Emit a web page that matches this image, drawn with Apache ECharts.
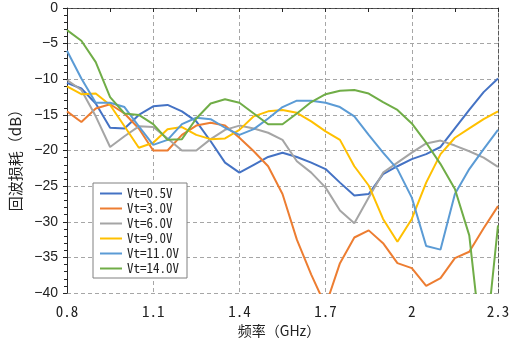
<!DOCTYPE html>
<html>
<head>
<meta charset="utf-8">
<script src="https://cdn.jsdelivr.net/npm/echarts@6/dist/echarts.min.js"></script>
<style>html,body{margin:0;padding:0;background:#fff}#c{width:519px;height:343px}</style>
</head>
<body>
<div id="c"></div>
<script>
const categories = ['0.8','0.85','0.9','0.95','1','1.05','1.1','1.15','1.2','1.25','1.3','1.35','1.4','1.45','1.5','1.55','1.6','1.65','1.7','1.75','1.8','1.85','1.9','1.95','2','2.05','2.1','2.15','2.2','2.25','2.3'];
const seriesNames = ['Vt=0.5V','Vt=3.0V','Vt=6.0V','Vt=9.0V','Vt=11.0V','Vt=14.0V'];
const vt05 = [-10.5,-11.3,-13.4,-16.8,-16.9,-15.0,-13.8,-13.6,-14.5,-15.9,-18.7,-21.7,-23.1,-22.0,-20.9,-20.3,-20.9,-21.7,-22.6,-24.5,-26.3,-26.1,-23.3,-22.2,-21.2,-20.5,-19.5,-16.9,-14.3,-11.8,-9.9];
const vt30 = [-14.5,-16.0,-14.1,-13.5,-14.8,-16.9,-20.0,-20.0,-17.8,-16.5,-16.1,-16.5,-18.2,-20.1,-22.2,-26.1,-32.5,-37.4,-41.8,-35.8,-32.2,-31.2,-33.0,-35.8,-36.5,-39.0,-37.9,-35.1,-34.2,-30.9,-27.8];
const vt60 = [-10.1,-11.5,-15.2,-19.5,-18.0,-16.6,-16.7,-18.3,-20.0,-20.0,-18.4,-17.1,-16.5,-16.9,-17.5,-18.5,-21.5,-23.1,-25.2,-28.4,-30.2,-26.6,-23.1,-21.7,-20.3,-19.0,-18.6,-19.3,-20.1,-21.0,-22.3];
const vt90 = [-11.0,-12.1,-12.0,-13.6,-16.6,-19.6,-18.9,-17.0,-16.7,-17.8,-18.4,-18.3,-17.1,-15.2,-14.5,-14.3,-14.7,-15.9,-17.3,-18.5,-22.2,-24.9,-29.6,-32.8,-29.6,-24.5,-20.5,-18.2,-16.9,-15.6,-14.5];
const vt110 = [-6.0,-9.9,-13.3,-13.3,-13.9,-16.6,-19.2,-18.5,-16.3,-15.4,-15.6,-16.8,-17.8,-17.0,-15.5,-13.9,-13.0,-13.0,-13.3,-13.9,-15.2,-17.8,-20.3,-22.6,-26.6,-33.4,-33.9,-26.1,-22.6,-19.8,-17.1];
const vt140 = [-3.1,-4.6,-7.6,-12.5,-14.8,-15.0,-16.3,-18.5,-18.4,-15.5,-13.4,-12.8,-13.3,-14.8,-16.3,-16.3,-14.8,-13.2,-12.1,-11.6,-11.5,-12.0,-13.2,-14.3,-16.2,-18.9,-21.9,-25.4,-31.9,-50.0,-30.5];
const allValues = [vt05, vt30, vt60, vt90, vt110, vt140];
const colors = ['#4472C4','#ED7D31','#A5A5A5','#FFC000','#5B9BD5','#70AD47'];

const monoFont = '"Noto Sans Mono CJK SC", "Liberation Mono", monospace';
const cjkFont = '"Noto Sans CJK SC", "Liberation Sans", sans-serif';

const chart = echarts.init(document.getElementById('c'), null, {renderer: 'canvas'});
chart.setOption({
  animation: false,
  backgroundColor: '#fff',
  grid: {left: 63, right: 21, top: 8, bottom: 45, containLabel: false},
  legend: {
    orient: 'vertical', left: 93, top: 183,
    padding: [4, 8, 3, 7],
    backgroundColor: '#fff', borderColor: '#808080', borderWidth: 1,
    icon: 'rect',
    itemWidth: 22, itemHeight: 2, itemGap: 2,
    selectedMode: false,
    textStyle: {fontFamily: monoFont, fontSize: 13, color: '#222', lineHeight: 13},
    data: seriesNames
  },
  xAxis: [{
    type: 'category', data: categories, boundaryGap: false,
    name: '频率（GHz）', nameLocation: 'middle', nameGap: 27,
    nameTextStyle: {fontFamily: cjkFont, fontSize: 14, color: '#222', padding: [0, 7, 0, 0]},
    axisLine: {lineStyle: {color: '#262626', width: 1}},
    axisTick: {show: true, interval: function(i){return i % 3 === 0;}, length: 4, lineStyle: {color: '#262626'}},
    axisLabel: {interval: function(i){return i % 6 === 0;}, margin: 11, fontFamily: monoFont, fontSize: 15, color: '#222'},
    splitLine: {show: true, interval: function(i){return i % 6 === 0 && i !== 0 && i !== 30;}, lineStyle: {color: '#A6A6A6', type: [4, 3], width: 1}}
  }, {
    type: 'category', data: categories, boundaryGap: false, position: 'top',
    axisLine: {lineStyle: {color: '#595959', type: [4, 2], width: 1}},
    axisTick: {show: false}, axisLabel: {show: false}, splitLine: {show: false}
  }],
  yAxis: [{
    type: 'value', min: -40, max: 0, interval: 5,
    name: '回波损耗（dB）', nameLocation: 'middle', nameGap: 44, nameRotate: 90,
    nameTextStyle: {fontFamily: cjkFont, fontSize: 15, color: '#222', padding: [0, 12, 0, 0]},
    axisLine: {show: true, lineStyle: {color: '#262626', width: 1}},
    axisTick: {show: true, length: 4, lineStyle: {color: '#262626'}},
    minorTick: {show: true, splitNumber: 5, length: 3, lineStyle: {color: '#262626'}},
    axisLabel: {margin: 9, fontFamily: '"Liberation Sans", Arial, sans-serif', fontSize: 14, color: '#222',
      formatter: function(v){return String(v).replace('-', '\u2212');}},
    splitLine: {show: true, lineStyle: {color: '#A6A6A6', type: [4, 3], width: 1}}
  }, {
    type: 'value', min: -40, max: 0, interval: 5, position: 'right',
    axisLine: {show: true, lineStyle: {color: '#595959', type: [4, 2], width: 1}},
    axisTick: {show: false}, axisLabel: {show: false}, splitLine: {show: false}
  }],
  series: seriesNames.map(function(n, i){
    return {
      name: n, type: 'line', data: allValues[i], xAxisIndex: 0, yAxisIndex: 0,
      symbol: 'none', smooth: false, clip: true,
      itemStyle: {color: colors[i]},
      lineStyle: {color: colors[i], width: 2}
    };
  })
});
</script>
</body>
</html>
